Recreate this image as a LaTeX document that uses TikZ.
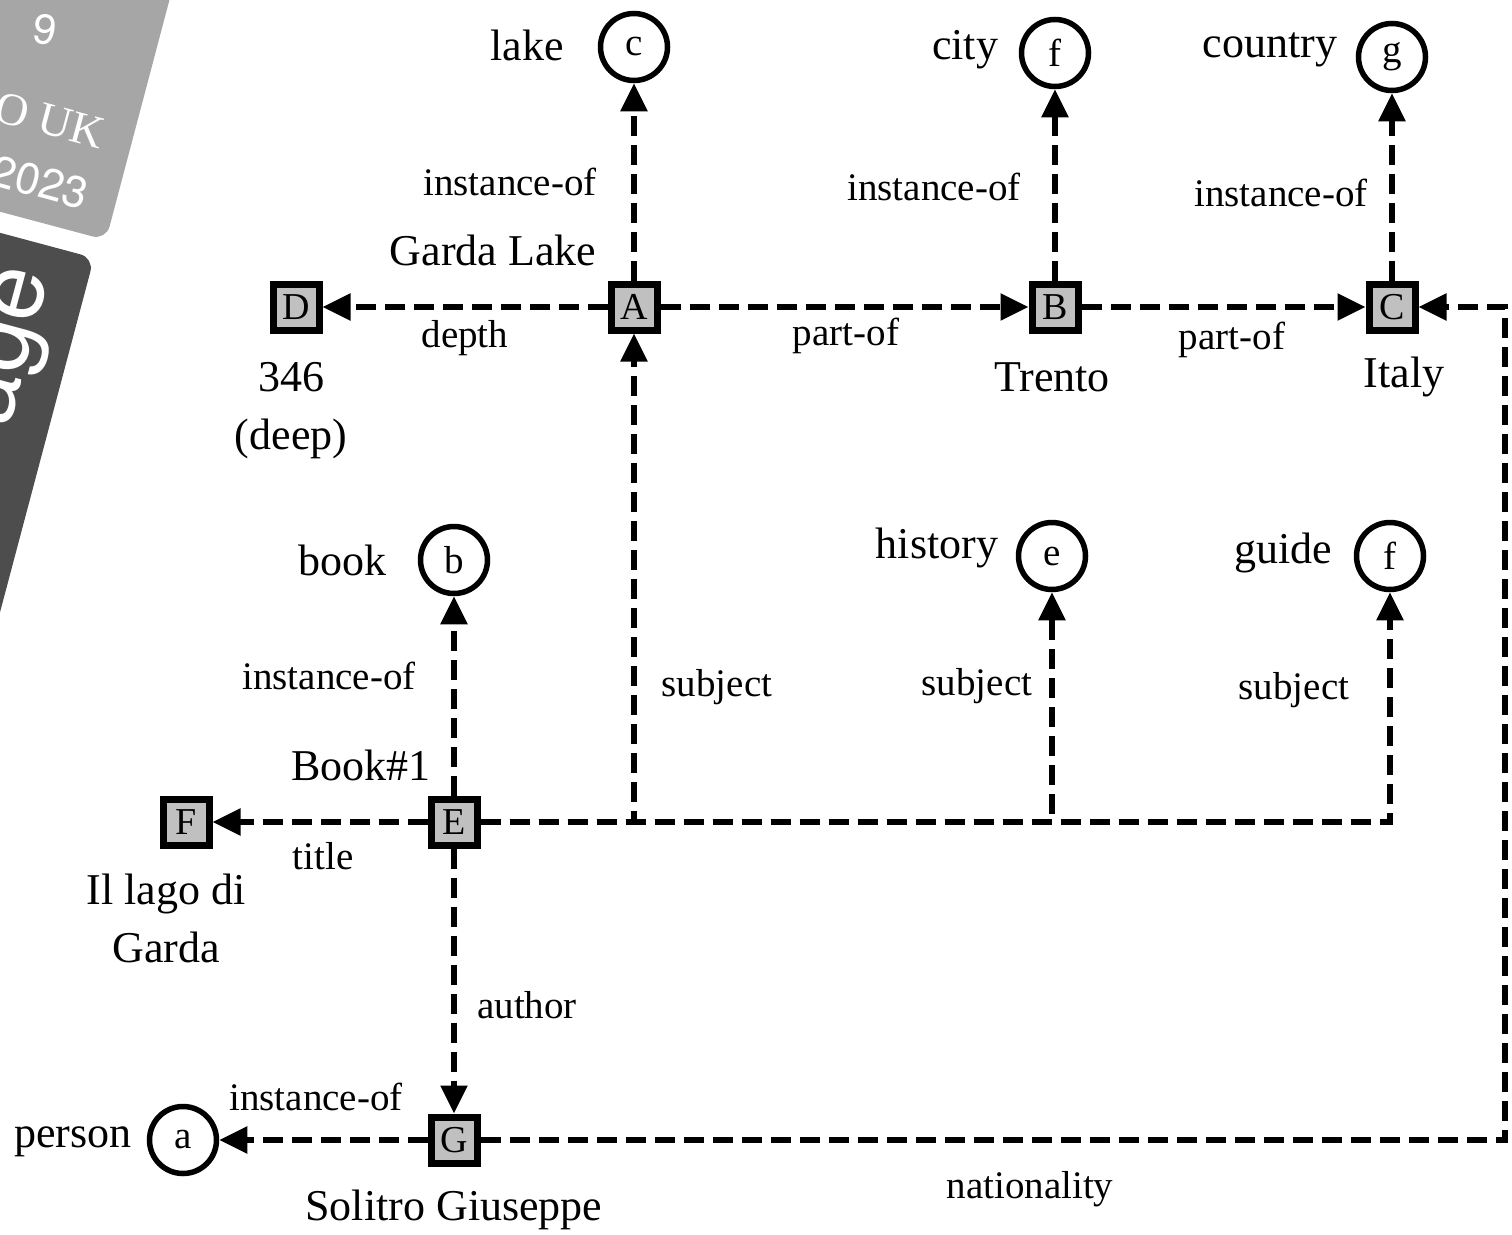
\documentclass[tikz,border=0pt]{standalone}
\usepackage{fontspec}
\setmainfont{Liberation Serif}
\newfontfamily\badgefont{TeX Gyre Heros}
\usetikzlibrary{arrows.meta}
\definecolor{sqgray}{RGB}{192,192,192}
\definecolor{badgelight}{RGB}{166,166,166}
\definecolor{badgedark}{RGB}{77,77,77}
\begin{document}
\begin{tikzpicture}[x=1pt,y=-1pt,
 sq/.style={draw,line width=7pt,fill=sqgray,minimum size=46pt,inner sep=0pt,font=\fontsize{38}{38}\selectfont},
 cl/.style={circle,draw,line width=5.5pt,fill=white,minimum size=67pt,inner sep=0pt,font=\fontsize{39}{39}\selectfont},
 lbl/.style={font=\fontsize{44}{58}\selectfont,inner sep=0pt,align=center},
 elbl/.style={font=\fontsize{39}{40}\selectfont,inner sep=0pt},
 edge/.style={line width=5.5pt,dash pattern=on 20pt off 9pt,-{Triangle[length=28pt,width=26pt]}}
]
\useasboundingbox (0,0) rectangle (1512,1234);
% badge overlay
\begin{scope}
\clip (0,0) rectangle (1512,1234);
\fill[badgelight,rounded corners=14pt] (-100,-40) -- (180,-40) -- (106,240) -- (-100,185) -- cycle;
\fill[badgedark,rounded corners=14pt] (-100,206) -- (94,258) -- (-10,650) -- (-200,650) -- cycle;
\node[white,font=\badgefont\fontsize{42}{42}\selectfont,rotate=-8] (b9) at (45,30) {9};
\node[white,font=\fontsize{46}{46}\selectfont,rotate=-15] (buk) at (50,120) {O UK};
\node[white,font=\badgefont\fontsize{44}{44}\selectfont,rotate=-15] (b23) at (40,182) {2023};
\node[white,font=\badgefont\fontsize{96}{96}\selectfont,rotate=75] (bage) at (14,348) {age};
\end{scope}
% square nodes
\node[sq] (A) at (634,307) {A};
\node[sq] (B) at (1055,307) {B};
\node[sq] (C) at (1392,307) {C};
\node[sq] (D) at (296,307) {D};
\node[sq] (E) at (454,822) {E};
\node[sq] (F) at (186,822) {F};
\node[sq] (G) at (454,1140) {G};
% circle nodes
\node[cl] (c) at (634,47) {c};
\node[cl] (f1) at (1055,53) {f};
\node[cl] (g) at (1392,57) {g};
\node[cl] (b) at (454,560) {b};
\node[cl] (e) at (1052,556) {e};
\node[cl] (f2) at (1390,556) {f};
\node[cl] (a) at (183,1140) {a};
% class labels
\node[lbl] (llake) at (527,45) {lake};
\node[lbl] (lcity) at (965,50) {city};
\node[lbl] (lcountry) at (1270,50) {country};
\node[lbl] (lbook) at (342,560) {book};
\node[lbl] (lhistory) at (937,548) {history};
\node[lbl] (lguide) at (1283,553) {guide};
\node[lbl] (lperson) at (73,1142) {person};
% instance labels
\node[lbl] (lgarda) at (493,250) {Garda Lake};
\node[lbl] (ltrento) at (1052,377) {Trento};
\node[lbl] (litaly) at (1404,377) {Italy};
\node[lbl] (ldeep) at (291,411) {346\\(deep)};
\node[lbl] (lbook1) at (361,765) {Book\#1};
\node[lbl] (llago) at (166,918) {Il lago di\\Garda};
\node[lbl] (lsolitro) at (454,1210) {Solitro Giuseppe};
% connectors
\coordinate (gc1) at (1505,1140);
\coordinate (gc2) at (1505,307);
\draw[edge] (A) -- (c);
\draw[edge] (B) -- (f1);
\draw[edge] (C) -- (g);
\draw[edge] (A) -- (D);
\draw[edge] (A) -- (B);
\draw[edge] (B) -- (C);
\draw[edge] (E) -- (F);
\draw[edge] (E) -- (b);
\draw[edge] (E) -- (G);
\draw[edge] (E) -| (A);
\draw[edge] (E) -| (e);
\draw[edge] (E) -| (f2);
\draw[edge] (G) -- (a);
\draw[edge] (G) -- (gc1) -- (gc2) -- (C);
% edge labels
\node[elbl] (e1) at (510,182) {instance-of};
\node[elbl] (e2) at (934,187) {instance-of};
\node[elbl] (e3) at (1281,193) {instance-of};
\node[elbl] (e4) at (465,338) {depth};
\node[elbl] (e5) at (846,336) {part-of};
\node[elbl] (e6) at (1232,340) {part-of};
\node[elbl] (e7) at (329,676) {instance-of};
\node[elbl] (e8) at (717,687) {subject};
\node[elbl] (e9) at (977,686) {subject};
\node[elbl] (e10) at (1294,690) {subject};
\node[elbl] (e11) at (323,856) {title};
\node[elbl] (e12) at (527,1005) {author};
\node[elbl] (e13) at (316,1097) {instance-of};
\node[elbl] (e14) at (1030,1189) {nationality};
\end{tikzpicture}
\end{document}
